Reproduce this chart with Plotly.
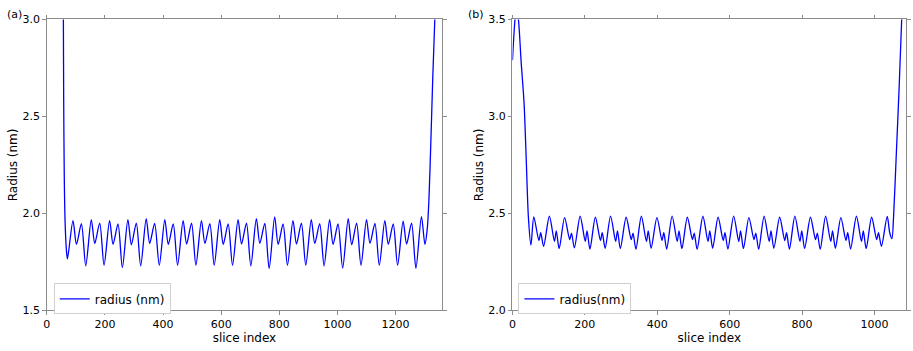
import plotly.graph_objects as go

W, H = 913, 351

# ---------------- Panel (a) data (slice index, radius nm) ----------------
L_start_x = [55, 57, 58, 60, 63, 67]
L_start_y = [3.5, 3.0, 2.6, 2.2, 1.95, 1.82]
L_dip_x = [71, 134, 197, 260, 323, 387, 450, 513, 576, 639, 702, 765, 828, 891, 954, 1018, 1081, 1144, 1207, 1270]
L_dip_y = [1.765, 1.729, 1.732, 1.72, 1.729, 1.732, 1.732, 1.732, 1.732, 1.732, 1.729, 1.715, 1.732, 1.732, 1.729, 1.717, 1.732, 1.732, 1.732, 1.716]
L_pk1_x = [90, 153, 216, 279, 342, 406, 469, 532, 595, 658, 721, 784, 847, 910, 973, 1037, 1100, 1163, 1226, 1289]
L_pk1_y = [1.963, 1.968, 1.963, 1.968, 1.973, 1.968, 1.963, 1.963, 1.968, 1.968, 1.973, 1.982, 1.963, 1.968, 1.968, 1.973, 1.968, 1.963, 1.960, 1.983]
L_mid_x = [102, 165, 228, 291, 354, 418, 481, 544, 607, 670, 733, 796, 859, 922, 985, 1049, 1112, 1175, 1238, 1301]
L_mid_y = [1.84, 1.845, 1.84, 1.838, 1.845, 1.84, 1.842, 1.845, 1.84, 1.842, 1.845, 1.84, 1.842, 1.845, 1.84, 1.838, 1.845, 1.84, 1.842, 1.84]
L_pk2_x = [119, 182, 245, 308, 371, 435, 498, 561, 624, 687, 750, 813, 876, 939, 1002, 1066, 1129, 1192, 1255]
L_pk2_y = [1.947, 1.95, 1.945, 1.95, 1.948, 1.945, 1.95, 1.947, 1.945, 1.95, 1.948, 1.945, 1.95, 1.947, 1.945, 1.95, 1.948, 1.945, 1.95]
L_end_x = [1309, 1315, 1322, 1328, 1335, 1345]
L_end_y = [1.92, 2.08, 2.4, 2.7, 3.0, 3.5]

# ---------------- Panel (b) data ----------------
R_start_x = [0, 7, 11, 16.5, 24, 32, 38, 44, 51]
R_start_y = [3.29, 3.5, 3.56, 3.5, 3.28, 3.07, 2.78, 2.48, 2.336]
R_pk_x = [59, 102, 144, 187, 229, 271, 314, 356, 399, 441, 483, 526, 568, 611, 653, 695, 738, 780, 823, 865, 907, 950, 992, 1035]
R_pk_y = [2.482, 2.485, 2.478, 2.485, 2.48, 2.486, 2.48, 2.485, 2.478, 2.486, 2.48, 2.485, 2.48, 2.486, 2.478, 2.485, 2.48, 2.486, 2.48, 2.485, 2.478, 2.485, 2.48, 2.484]
R_sd_x = [73, 116, 158, 201, 243, 285, 328, 370, 413, 455, 497, 540, 582, 625, 667, 709, 752, 794, 837, 879, 921, 964, 1006]
R_sd_y = [2.36, 2.355, 2.365, 2.355, 2.36, 2.355, 2.365, 2.355, 2.36, 2.355, 2.365, 2.355, 2.36, 2.355, 2.365, 2.355, 2.36, 2.355, 2.365, 2.355, 2.36, 2.355, 2.365]
R_bp_x = [78, 121, 163, 206, 248, 290, 333, 375, 418, 460, 502, 545, 587, 630, 672, 714, 757, 799, 842, 884, 926, 969, 1011]
R_bp_y = [2.40, 2.41, 2.398, 2.41, 2.40, 2.41, 2.398, 2.41, 2.40, 2.41, 2.398, 2.41, 2.40, 2.41, 2.398, 2.41, 2.40, 2.41, 2.398, 2.41, 2.40, 2.41, 2.40]
R_bd_x = [86, 129, 171, 214, 256, 298, 341, 383, 426, 468, 510, 553, 595, 638, 680, 722, 765, 807, 850, 892, 934, 977, 1019]
R_bd_y = [2.33, 2.318, 2.322, 2.315, 2.32, 2.318, 2.315, 2.32, 2.316, 2.318, 2.315, 2.32, 2.316, 2.318, 2.315, 2.32, 2.316, 2.318, 2.315, 2.32, 2.316, 2.318, 2.33]
R_end_x = [1042, 1048, 1053, 1060, 1068, 1075, 1082]
R_end_y = [2.40, 2.37, 2.5, 2.8, 3.15, 3.5, 3.8]

# ---- assemble series in order ----
lx, ly = list(L_start_x), list(L_start_y)
for k in range(len(L_dip_x)):
    lx += [L_dip_x[k], L_pk1_x[k], L_mid_x[k]]
    ly += [L_dip_y[k], L_pk1_y[k], L_mid_y[k]]
    if k < len(L_pk2_x):
        lx.append(L_pk2_x[k]); ly.append(L_pk2_y[k])
lx += L_end_x; ly += L_end_y

rx, ry = list(R_start_x), list(R_start_y)
for k in range(len(R_pk_x)):
    rx.append(R_pk_x[k]); ry.append(R_pk_y[k])
    if k < len(R_sd_x):
        rx += [R_sd_x[k], R_bp_x[k], R_bd_x[k]]
        ry += [R_sd_y[k], R_bp_y[k], R_bd_y[k]]
rx += R_end_x; ry += R_end_y

FONT = dict(family="DejaVu Sans", size=12, color="black")
TFONT = dict(family="DejaVu Sans", size=11, color="black")
AX = "#8c8c8c"

fig = go.Figure()
fig.add_trace(go.Scatter(x=lx, y=ly, mode="lines", name="radius (nm)", showlegend=True,
                         line=dict(color="#0000ff", width=1.3, shape="spline", smoothing=0.8),
                         xaxis="x", yaxis="y", legend="legend"))
fig.add_trace(go.Scatter(x=rx, y=ry, mode="lines", name="radius(nm)", showlegend=True,
                         line=dict(color="#0000ff", width=1.3, shape="spline", smoothing=0.8),
                         xaxis="x2", yaxis="y2", legend="legend2"))

ydom = [(H - 316) / H, (H - 14) / H]
common_ax = dict(showgrid=False, zeroline=False, showline=True, linecolor=AX, linewidth=1,
                 mirror="ticks", ticks="outside", ticklen=3.5, tickcolor=AX, tickfont=TFONT)

fig.update_layout(
    width=W, height=H, margin=dict(l=0, r=0, t=0, b=0),
    paper_bgcolor="white", plot_bgcolor="white", font=FONT, showlegend=True,
    xaxis=dict(domain=[43 / W, 440 / W], range=[0, 1360], tickvals=[0, 200, 400, 600, 800, 1000, 1200],
               title=dict(text="slice index", font=FONT, standoff=1), anchor="y", **common_ax),
    yaxis=dict(domain=ydom, range=[1.5, 3.0], tickvals=[1.5, 2.0, 2.5, 3.0], tickformat=".1f",
               title=dict(text="Radius (nm)", font=FONT, standoff=2), anchor="x", **common_ax),
    xaxis2=dict(domain=[510.7 / W, 906 / W], range=[0, 1087], tickvals=[0, 200, 400, 600, 800, 1000],
                title=dict(text="slice index", font=FONT, standoff=1), anchor="y2", **common_ax),
    yaxis2=dict(domain=ydom, range=[2.0, 3.5], tickvals=[2.0, 2.5, 3.0, 3.5], tickformat=".1f",
                title=dict(text="Radius (nm)", font=FONT, standoff=2), anchor="x2", **common_ax),
    legend=dict(x=50 / W, y=1 - 288 / H, xanchor="left", yanchor="top", bgcolor="white",
                bordercolor="#d0d0d0", borderwidth=1, font=FONT, itemwidth=30,
                tracegroupgap=0),
    legend2=dict(x=516.7 / W, y=1 - 288 / H, xanchor="left", yanchor="top", bgcolor="white",
                 bordercolor="#d0d0d0", borderwidth=1, font=FONT, itemwidth=30,
                 tracegroupgap=0),
    annotations=[
        dict(text="(a)", x=1 / W, y=1 - 9 / H, xref="paper", yref="paper", xanchor="left",
             yanchor="middle", showarrow=False, font=TFONT),
        dict(text="(b)", x=464 / W, y=1 - 9 / H, xref="paper", yref="paper", xanchor="left",
             yanchor="middle", showarrow=False, font=TFONT),
    ],
)

fig.write_html("out.html", config={"displayModeBar": False},
               post_script="document.body.style.margin='0';document.body.style.overflow='hidden';")
